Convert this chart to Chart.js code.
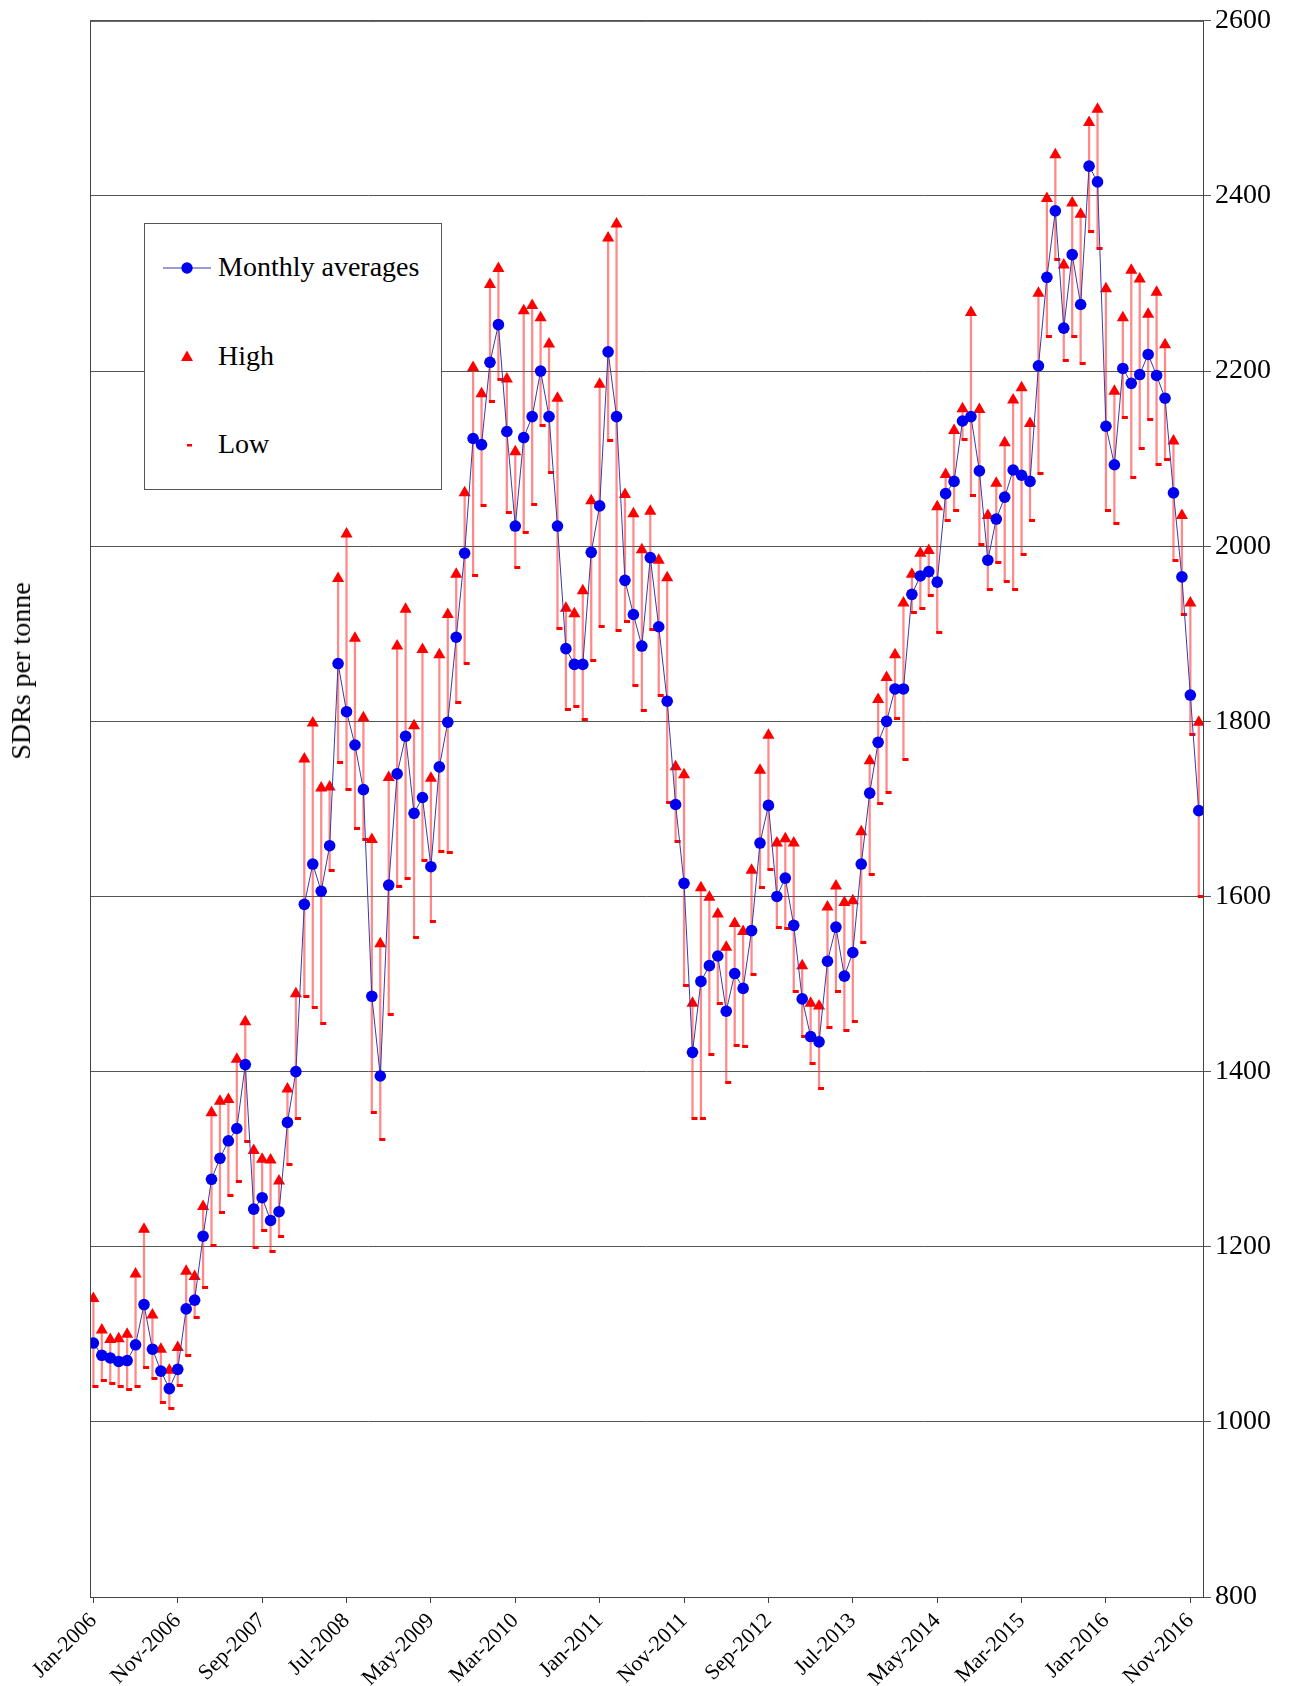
<!DOCTYPE html>
<html>
<head>
<meta charset="utf-8">
<script src="https://cdn.jsdelivr.net/npm/chart.js@4.4.1/dist/chart.umd.min.js"></script>
<style>
    body { margin: 0; background: #fff; }
    #wrap { position: relative; width: 1295px; height: 1686px; }
    #titulo_y {
        position: absolute; left: 21px; top: 671px;
        transform: translate(-50%, -50%) rotate(-90deg);
        font-family: 'Liberation Serif', serif; font-size: 28px; white-space: nowrap;
    }
    #leyenda {
        position: absolute; left: 144px; top: 223px; width: 296px; height: 265px;
        border: 1px solid #555; background: #fff;
        font-family: 'Liberation Serif', serif; font-size: 28px;
    }
    .fila { position: absolute; left: 0; height: 40px; width: 100%; }
    .fila svg { position: absolute; left: 14px; top: 0; }
    .fila span { position: absolute; left: 73px; top: 3px; }
</style>
</head>
<body>
<div id="wrap">
    <canvas id="graph"></canvas>
    <div id="titulo_y">SDRs per tonne</div>
    <div id="leyenda">
        <div class="fila" style="top:24px">
            <svg width="56" height="40"><line x1="4" y1="20" x2="52" y2="20" stroke="#3a3aa8" stroke-width="1"/><circle cx="28" cy="20" r="5.7" fill="#0000f0"/></svg>
            <span>Monthly averages</span>
        </div>
        <div class="fila" style="top:113px">
            <svg width="56" height="40"><polygon points="28,13.5 34,24 22,24" fill="#ff0000"/></svg>
            <span>High</span>
        </div>
        <div class="fila" style="top:201px">
            <svg width="56" height="40"><rect x="28" y="19" width="5" height="2.5" fill="#ff0000"/></svg>
            <span>Low</span>
        </div>
    </div>
</div>
<script>
// etiquetas del eje x (una cada 10 meses, desde Jan-2006)
const tickLabels = ['Jan-2006','Nov-2006','Sep-2007','Jul-2008','May-2009','Mar-2010','Jan-2011',
    'Nov-2011','Sep-2012','Jul-2013','May-2014','Mar-2015','Jan-2016','Nov-2016'];
const tickMonths = [0,10,20,30,40,50,60,70,80,90,100,110,120,130];

// promedios mensuales, Jan-2006 .. Dec-2016
const avg = [
    1090,1076,1073,1069,1070,1088,1134,1083,1058,1038,1060,1129,
    1139,1212,1277,1301,1321,1335,1408,1243,1256,1230,1240,1342,
    1400,1591,1637,1606,1658,1866,1811,1773,1722,1486,1395,1613,
    1740,1783,1695,1713,1634,1748,1799,1896,1992,2123,2116,2210,
    2253,2131,2023,2124,2148,2200,2148,2023,1883,1865,1865,1993,
    2046,2222,2148,1961,1922,1886,1987,1908,1823,1705,1615,1422,
    1503,1521,1532,1469,1512,1495,1561,1661,1704,1600,1621,1567,
    1483,1440,1434,1526,1565,1509,1536,1637,1718,1776,1800,1837,
    1837,1945,1966,1971,1959,2060,2074,2143,2148,2086,1984,2031,
    2056,2087,2081,2074,2206,2307,2383,2249,2333,2276,2434,2416,
    2137,2093,2203,2186,2196,2219,2195,2169,2061,1965,1830,1698
];
const high = [
    1141,1105,1094,1095,1100,1169,1220,1122,1083,1059,1085,1172,
    1166,1246,1353,1366,1368,1414,1457,1310,1300,1299,1275,1380,
    1489,1757,1798,1724,1725,1963,2014,1895,1804,1665,1546,1736,
    1886,1928,1795,1882,1735,1876,1922,1968,2061,2204,2174,2299,
    2317,2191,2108,2269,2275,2261,2231,2169,1929,1923,1949,2052,
    2185,2352,2368,2059,2037,1996,2040,1984,1964,1748,1739,1478,
    1610,1599,1580,1542,1569,1560,1630,1744,1784,1661,1666,1661,
    1521,1478,1475,1588,1612,1593,1595,1674,1755,1825,1850,1876,
    1935,1968,1992,1995,2045,2082,2132,2157,2267,2156,2035,2072,
    2118,2167,2181,2140,2289,2397,2447,2321,2392,2379,2484,2499,
    2294,2177,2261,2315,2305,2265,2290,2230,2120,2035,1935,1799
];
const low = [
    1040,1047,1044,1040,1037,1040,1062,1049,1022,1015,1041,1076,
    1119,1153,1201,1239,1258,1275,1320,1199,1219,1194,1212,1294,
    1346,1486,1473,1455,1630,1753,1722,1678,1665,1353,1322,1465,
    1611,1621,1553,1641,1571,1651,1650,1821,1866,1966,2047,2165,
    2190,2039,1976,2016,2048,2138,2084,1906,1814,1817,1802,1869,
    1908,2121,1904,1914,1841,1812,1905,1830,1707,1663,1498,1347,
    1347,1420,1478,1388,1430,1429,1511,1610,1631,1565,1563,1492,
    1440,1409,1381,1450,1492,1447,1457,1548,1625,1706,1719,1803,
    1756,1924,1929,1944,1901,2029,2041,2122,2058,2002,1951,1981,
    1960,1950,1991,2029,2083,2239,2327,2212,2239,2209,2359,2340,
    2041,2026,2147,2079,2112,2145,2093,2099,1984,1922,1785,1600
];

const fuente = 'Liberation Serif';

// marcador del minimo: guion corrido a la derecha de la linea
const guion = document.createElement('canvas');
guion.width = 12; guion.height = 3;
const g = guion.getContext('2d');
g.fillStyle = '#ff0000';
g.fillRect(5, 0, 6, 3);

const borde = {
    id: 'borde',
    afterDatasetsDraw(chart) {
        const a = chart.chartArea;
        const ctx = chart.ctx;
        ctx.save();
        ctx.strokeStyle = '#444';
        ctx.lineWidth = 1;
        ctx.strokeRect(a.left + 0.5, a.top + 0.5, a.right - a.left, a.bottom - a.top);
        ctx.restore();
    }
};

const pts = arr => arr.map((v, i) => ({ x: i, y: v }));

new Chart(document.getElementById('graph'), {
    data: {
        datasets: [
            {
                type: 'line', label: 'Monthly averages', data: pts(avg), order: 1,
                borderColor: '#3a3aa8', borderWidth: 1, pointRadius: 5.8,
                pointBackgroundColor: '#0000f0', pointBorderColor: '#0000f0', pointBorderWidth: 0
            },
            {
                type: 'line', label: 'High', data: pts(high), order: 2, showLine: false,
                pointStyle: 'triangle', pointRadius: 7, pointBackgroundColor: '#ff0000',
                pointBorderColor: '#ff0000', pointBorderWidth: 0
            },
            {
                type: 'line', label: 'Low', data: pts(low), order: 3, showLine: false,
                pointStyle: guion, pointRadius: 3
            },
            {
                type: 'bar', label: 'rango', order: 4,
                data: avg.map((v, i) => ({ x: i, y: [low[i], high[i]] })),
                backgroundColor: 'rgba(255,40,40,0.55)', barThickness: 1.6, borderWidth: 0
            }
        ]
    },
    options: {
        responsive: true, maintainAspectRatio: false, animation: false,
        layout: { padding: { left: 90, top: 20, right: 0, bottom: 0 } },
        plugins: { legend: { display: false }, tooltip: { enabled: false } },
        scales: {
            x: {
                type: 'linear', min: -0.4, max: 131.5, offset: false,
                afterBuildTicks: s => { s.ticks = tickMonths.map(v => ({ value: v })); },
                afterFit: s => { s.height = 89; },
                grid: { drawOnChartArea: false, offset: false, tickLength: 6, color: '#444' },
                border: { display: false },
                ticks: {
                    autoSkip: false, minRotation: 45, maxRotation: 45, padding: 5,
                    color: '#000', font: { family: fuente, size: 22 },
                    callback: v => tickLabels[tickMonths.indexOf(v)]
                }
            },
            y: {
                position: 'right', min: 800, max: 2600,
                afterFit: s => { s.width = 92; },
                grid: { color: '#555', lineWidth: 1, tickLength: 8 },
                border: { display: false },
                ticks: {
                    stepSize: 200, padding: 4, color: '#000', font: { family: fuente, size: 28 },
                    callback: v => String(v)
                }
            }
        }
    },
    plugins: [borde]
});
</script>
</body>
</html>
